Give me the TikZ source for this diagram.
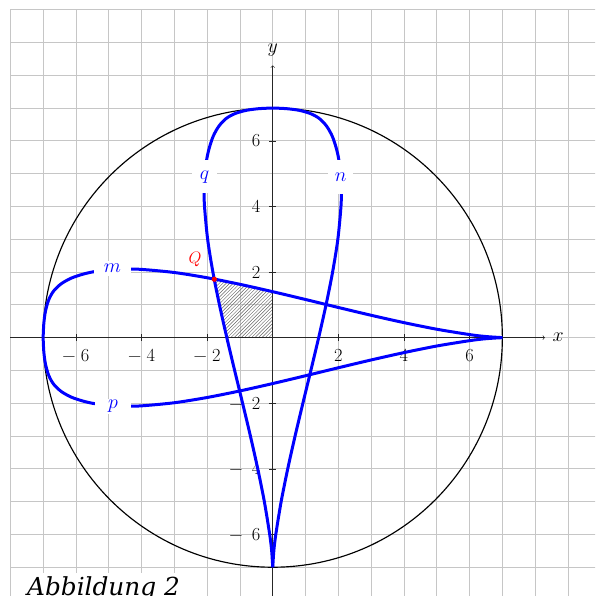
\documentclass[tikz,border=0pt]{standalone}
\usepackage{fontspec}
\newfontfamily\capfont{DejaVu Serif}
\usetikzlibrary{patterns}
\newcommand\tearbranch{plot[smooth] coordinates {(-7,0) (-6.98,0.42) (-6.93,0.8) (-6.83,1.15) (-6.68,1.42) (-6.45,1.64) (-6.15,1.81) (-5.8,1.93) (-5.45,2.01) (-5,2.06) (-4.5,2.09) (-4,2.08) (-3,1.985) (-2,1.825) (-1,1.625) (0,1.4) (1,1.162) (2,0.919) (3,0.681) (4,0.457) (5,0.256) (6,0.093) (6.5,0.033) (7,0)}}
\tikzset{
  gridline/.style={gray!45, line width=0.7pt},
  axisline/.style={black!85, line width=0.5pt},
  curve/.style={blue, line width=2.6pt},
  ticklab/.style={inner sep=0pt, font=\fontsize{16}{19}\selectfont},
  axislab/.style={inner sep=0pt, font=\fontsize{17}{20}\selectfont},
  curvelab/.style={fill=white, inner sep=0pt, text=blue, font=\fontsize{17}{20}\selectfont},
}
\begin{document}
\begin{tikzpicture}[x=1cm,y=1cm]
\useasboundingbox (-8.315,-7.877) rectangle (9.825,10.293);
\clip (-8.315,-7.877) rectangle (9.825,10.293);
\draw[gridline] (-8,-8) grid (10,10);
\draw[black, line width=1pt] (0,0) circle (7);
% hatched region
\begin{scope}
  \clip (-2,0) rectangle (0,2);
  \clip \tearbranch -- (7,-1) -- (-7,-1) -- cycle;
  \clip[cm={0,-1,-1,0,(0,0)}] \tearbranch -- (7,-1) -- (-7,-1) -- cycle;
  \fill[pattern=north east lines, pattern color=black!60] (-2,0) rectangle (0,2);
\end{scope}
% axes
\draw[axisline,->] (-8,0) -- (8.3,0);
\draw[axisline,->] (0,-8) -- (0,8.3);
\node[axislab] (xlab) at (8.7,0) {$x$};
\node[axislab] (ylab) at (0,8.75) {$y$};
\foreach \v in {2,4,6}{
  \draw[axisline] (\v,-0.1) -- (\v,0.1);
  \draw[axisline] (-\v,-0.1) -- (-\v,0.1);
  \draw[axisline] (-0.1,\v) -- (0.1,\v);
  \draw[axisline] (-0.1,-\v) -- (0.1,-\v);
  \node[ticklab, anchor=north] (xp\v) at (\v,-0.35) {\v};
  \node[ticklab, anchor=north] (xm\v) at (-\v,-0.35) {−\hspace{0.28em}\v};
  \node[ticklab, anchor=east] (yp\v) at (-0.37,\v) {\v};
  \node[ticklab, anchor=east] (ym\v) at (-0.37,-\v) {−\hspace{0.5em}\v};
}
% curves
\draw[curve] \tearbranch;
\draw[curve, yscale=-1] \tearbranch;
\draw[curve, cm={0,-1,-1,0,(0,0)}] \tearbranch;
\draw[curve, rotate=-90] \tearbranch;
% curve labels
\node[curvelab, minimum width=32pt, minimum height=13pt] (m) at (-4.89,2.11) {$m$};
\node[curvelab, minimum width=32pt, minimum height=13pt] (p) at (-4.87,-2.09) {$p$};
\node[curvelab, minimum width=22pt, minimum height=29pt] (q) at (-2.08,4.905) {$q$};
\node[curvelab, minimum width=22pt, minimum height=29pt] (n) at (2.07,4.9) {$n$};
% point Q
\coordinate (Qpt) at (-1.78,1.78);
\fill[red] (Qpt) circle (2.3pt);
\node[inner sep=0pt, text=red, font=\fontsize{15.5}{18}\selectfont] (Qlab) at (-2.37,2.37) {$Q$};
% caption
\node[fill=white, inner sep=3pt, anchor=base west, font=\capfont\itshape\fontsize{21.5}{25}\selectfont] (cap) at (-7.6,-7.85) {Abbildung 2};
\end{tikzpicture}
\end{document}
